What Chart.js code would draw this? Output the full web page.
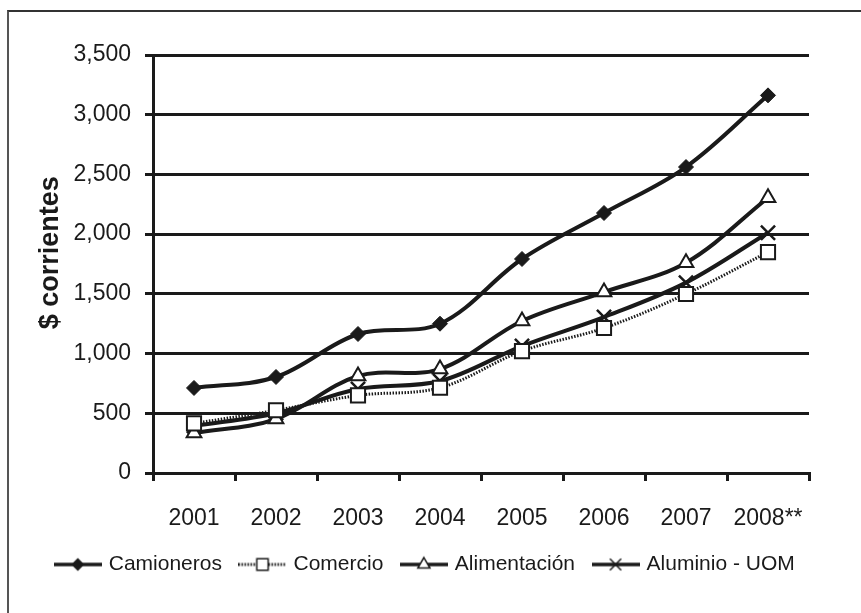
<!DOCTYPE html>
<html>
<head>
<meta charset="utf-8">
<script src="https://cdn.jsdelivr.net/npm/chart.js@4/dist/chart.umd.min.js"></script>
<style>
  html, body { margin: 0; padding: 0; background: #fff; }
  #wrap { position: relative; width: 861px; height: 613px; overflow: hidden; }
  #frame { position: absolute; left: 7px; top: 10px; width: 900px; height: 700px;
           border-left: 2px solid #555; border-top: 2px solid #333; }
  canvas { position: absolute; left: 0; top: 0; }
</style>
</head>
<body>
<div id="wrap">
  <div id="frame"></div>
  <canvas id="chart" width="861" height="613"></canvas>
</div>
<script>
const years = ['2001', '2002', '2003', '2004', '2005', '2006', '2007', '2008**'];
const camioneros = [712, 804, 1164, 1250, 1792, 2177, 2562, 3162];
const comercio = [415, 525, 650, 714, 1021, 1214, 1499, 1850];
const alimentacion = [335, 452, 812, 870, 1273, 1515, 1761, 2305];
const aluminio = [394, 500, 703, 770, 1063, 1306, 1594, 2012];
const yTicks = [0, 500, 1000, 1500, 2000, 2500, 3000, 3500];

const ink = '#1a1a1a';
const font = 'Liberation Sans, Arial, sans-serif';
const narrow = 'Liberation Sans Narrow, Arial Narrow, Liberation Sans, sans-serif';

// little line + marker picture used as the legend symbol
function sample(lineWidth, dash, style, radius, fill) {
  const c = document.createElement('canvas');
  c.width = 48; c.height = 22;
  const ctx = c.getContext('2d');
  ctx.strokeStyle = ink;
  ctx.lineWidth = lineWidth;
  ctx.setLineDash(dash);
  ctx.beginPath();
  ctx.moveTo(0, 11);
  ctx.lineTo(48, 11);
  ctx.stroke();
  ctx.setLineDash([]);
  ctx.fillStyle = fill;
  ctx.lineWidth = 1.5;
  Chart.helpers.drawPoint(ctx, {pointStyle: style, radius: radius, rotation: 0, borderWidth: 1.5}, 24, 11);
  return c;
}

const series = [
  {label: 'Camioneros', data: camioneros, borderWidth: 4, borderDash: [],
   pointStyle: 'rectRot', pointRadius: 7.5, pointBackgroundColor: ink, pointBorderWidth: 1,
   legend: sample(3.5, [], 'rectRot', 5.5, ink)},
  {label: 'Comercio', data: comercio, borderWidth: 3, borderDash: [1.5, 1.5],
   pointStyle: 'rect', pointRadius: 10, pointBackgroundColor: '#fff', pointBorderWidth: 2,
   legend: sample(3, [1.5, 1.5], 'rect', 8, '#fff')},
  {label: 'Alimentación', data: alimentacion, borderWidth: 4, borderDash: [],
   pointStyle: 'triangle', pointRadius: 8.5, pointBackgroundColor: '#fff', pointBorderWidth: 2,
   legend: sample(3.5, [], 'triangle', 7, '#fff')},
  {label: 'Aluminio - UOM', data: aluminio, borderWidth: 4, borderDash: [],
   pointStyle: 'crossRot', pointRadius: 10, pointBackgroundColor: ink, pointBorderWidth: 2.5,
   legend: sample(3.5, [], 'crossRot', 8, ink)}
];

new Chart(document.getElementById('chart'), {
  type: 'line',
  data: {
    labels: years,
    datasets: series.map(s => ({
      label: s.label,
      data: s.data,
      borderColor: ink,
      borderWidth: s.borderWidth,
      borderDash: s.borderDash,
      tension: 0.35,
      pointStyle: s.pointStyle,
      pointRadius: s.pointRadius,
      pointHoverRadius: s.pointRadius,
      pointBackgroundColor: s.pointBackgroundColor,
      pointBorderColor: ink,
      pointBorderWidth: s.pointBorderWidth
    }))
  },
  options: {
    responsive: false,
    animation: false,
    layout: {padding: {left: 0, right: 9, top: 55, bottom: 28}},
    plugins: {
      tooltip: {enabled: false},
      legend: {
        position: 'bottom',
        labels: {
          usePointStyle: true,
          pointStyleWidth: 41,
          padding: 20,
          color: ink,
          font: {family: font, size: 21},
          generateLabels: chart => series.map((s, i) => ({
            text: s.label,
            pointStyle: s.legend,
            fillStyle: ink,
            strokeStyle: ink,
            lineWidth: 0,
            fontColor: ink,
            hidden: false,
            datasetIndex: i
          }))
        }
      }
    },
    scales: {
      x: {
        offset: true,
        afterFit: scale => { scale.height = 61; },
        grid: {offset: true, drawOnChartArea: false, drawTicks: true, tickLength: 8, color: ink, lineWidth: 3},
        border: {display: true, color: ink, width: 3},
        ticks: {color: ink, padding: 24, font: {family: narrow, size: 23}, maxRotation: 0}
      },
      y: {
        min: 0,
        max: 3500,
        afterFit: scale => { scale.width = 153; },
        afterBuildTicks: scale => { scale.ticks = yTicks.map(v => ({value: v})); },
        grid: {color: ink, lineWidth: 3, tickLength: 8},
        border: {display: true, color: ink, width: 3},
        ticks: {color: ink, padding: 14, font: {family: narrow, size: 23}},
        title: {
          display: true,
          text: '   $ corrientes',
          color: ink,
          padding: {top: 34, bottom: 0},
          font: {family: font, size: 27, weight: 'bold'}
        }
      },
      // empty space on the right so the plot ends where the reference does
      spacer: {
        position: 'right',
        afterFit: scale => { scale.width = 43; },
        grid: {display: false},
        border: {display: false},
        ticks: {display: false}
      }
    }
  }
});
</script>
</body>
</html>
